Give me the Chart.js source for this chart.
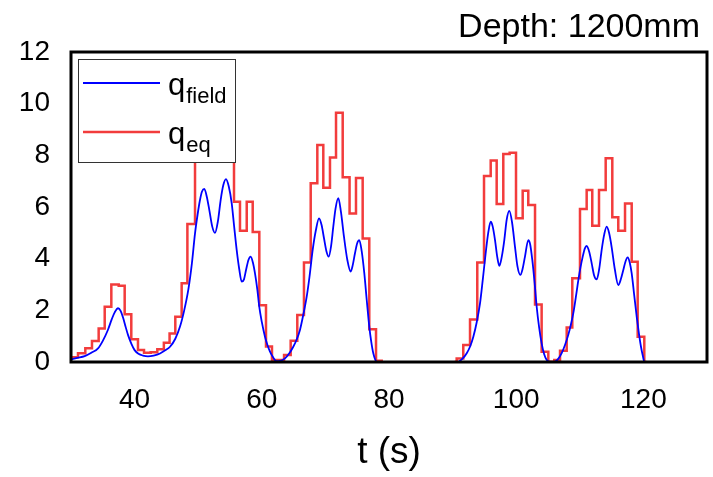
<!DOCTYPE html>
<html>
<head>
<meta charset="utf-8">
<script src="https://cdn.jsdelivr.net/npm/chart.js@4/dist/chart.umd.min.js"></script>
<style>
  html, body { margin: 0; padding: 0; background: #fff; }
  #wrap { width: 713px; height: 477px; }
</style>
</head>
<body>
<div id="wrap"><canvas id="chart" width="713" height="477"></canvas></div>
<script>
// --- data ---
// q_field : smooth measured curve
const fieldT = [30.0, 31.0, 32.15, 33.2, 34.25, 35.0, 35.8, 36.4, 36.87, 37.4, 37.8, 38.18, 38.6, 38.96, 39.5, 40.0, 40.6, 41.3, 42.1, 43.0, 44.0, 44.8, 45.57, 46.4, 47.14, 47.8, 48.44, 49.0, 49.5, 49.9, 50.28, 50.6, 50.96, 51.35, 51.75, 52.2, 52.64, 53.1, 53.53, 53.95, 54.37, 54.8, 55.27, 55.65, 56.05, 56.45, 56.84, 57.2, 57.52, 57.9, 58.25, 58.6, 58.93, 59.3, 59.6, 60.0, 60.5, 60.9, 61.29, 61.8, 62.3, 62.9, 63.65, 64.3, 64.95, 65.5, 66.0, 66.5, 67.06, 67.5, 68.0, 68.5, 69.0, 69.4, 69.78, 70.15, 70.52, 70.9, 71.24, 71.6, 72.03, 72.45, 72.92, 73.45, 73.98, 74.3, 74.65, 75.0, 75.33, 75.7, 76.12, 76.5, 76.9, 77.2, 77.53, 78.07, 78.5, 90.5, 90.9, 91.6, 92.22, 92.75, 93.26, 93.8, 94.31, 94.75, 95.2, 95.6, 95.99, 96.3, 96.67, 97.0, 97.35, 97.75, 98.13, 98.5, 98.92, 99.35, 99.81, 100.2, 100.65, 101.0, 101.38, 101.9, 102.2, 102.53, 102.9, 103.22, 103.6, 104.0, 104.4, 104.8, 105.47, 106.1, 106.6, 107.15, 107.7, 108.19, 108.6, 108.98, 109.4, 109.77, 110.1, 110.46, 110.8, 111.08, 111.5, 111.87, 112.25, 112.66, 113.05, 113.44, 113.85, 114.23, 114.6, 115.0, 115.5, 116.05, 116.45, 116.84, 117.2, 117.53, 117.85, 118.16, 118.55, 118.95, 119.3, 119.62, 119.9, 120.14, 120.5];
const fieldQ = [0.1, 0.16, 0.23, 0.36, 0.53, 0.82, 1.24, 1.65, 1.92, 2.08, 1.98, 1.72, 1.35, 1.05, 0.7, 0.46, 0.32, 0.25, 0.22, 0.25, 0.33, 0.45, 0.59, 0.9, 1.37, 2.0, 2.79, 3.8, 4.98, 5.7, 6.27, 6.6, 6.7, 6.4, 5.88, 5.25, 5.0, 5.45, 6.27, 6.85, 7.08, 6.8, 6.14, 5.25, 4.34, 3.6, 3.11, 3.2, 3.56, 3.95, 4.08, 3.85, 3.43, 2.8, 2.14, 1.55, 0.98, 0.65, 0.4, 0.17, 0.03, 0.04, 0.14, 0.33, 0.59, 0.88, 1.24, 1.8, 2.53, 3.3, 4.34, 5.1, 5.56, 5.3, 4.79, 4.3, 4.08, 4.5, 5.24, 5.95, 6.34, 5.8, 4.85, 3.95, 3.5, 3.75, 4.21, 4.6, 4.72, 4.3, 3.43, 2.4, 1.37, 0.8, 0.34, 0.01, 0, 0, 0.01, 0.14, 0.34, 0.6, 0.98, 1.55, 2.27, 3.2, 4.21, 5.0, 5.43, 5.25, 4.72, 4.1, 3.72, 4.1, 4.72, 5.5, 5.85, 5.4, 4.46, 3.7, 3.37, 3.6, 4.08, 4.72, 4.55, 3.95, 3.05, 2.14, 1.35, 0.72, 0.3, 0.08, 0.0, 0.01, 0.12, 0.34, 0.68, 1.05, 1.45, 1.89, 2.55, 3.17, 3.65, 4.08, 4.4, 4.49, 4.25, 3.82, 3.35, 3.2, 3.6, 4.34, 4.95, 5.24, 5.0, 4.46, 3.6, 2.98, 3.2, 3.56, 3.9, 4.05, 3.85, 3.43, 2.6, 1.75, 1.1, 0.59, 0.25, 0.01, 0];

// q_eq : step values, each holds from its start time to the next one
// (null = no line drawn in the quiet stretch between 79 s and 90 s)
const eqT = [30.0, 31.1, 32.25, 33.3, 34.35, 35.3, 36.34, 37.5, 38.44, 39.48, 40.53, 41.48, 42.53, 43.57, 44.6, 45.5, 46.4, 47.4, 48.3, 49.5, 50.5, 51.5, 52.6, 53.6, 54.6, 55.63, 56.57, 57.63, 58.57, 59.61, 60.66, 61.6, 62.6, 63.5, 64.54, 65.58, 66.63, 67.69, 68.73, 69.67, 70.72, 71.67, 72.72, 73.8, 74.81, 75.86, 76.9, 77.96, 78.85, 79.2, 90.3, 90.64, 91.68, 92.74, 93.88, 94.94, 95.99, 96.93, 97.97, 98.97, 99.97, 101.02, 101.9, 102.96, 104.0, 105.05, 105.99, 106.89, 107.94, 108.82, 110.03, 111.08, 111.96, 113.02, 114.07, 115.11, 116.05, 117.11, 118.16, 119.1, 120.14, 120.5];
const eqQ = [0.18, 0.34, 0.53, 0.81, 1.30, 2.14, 3.0, 2.95, 1.85, 0.88, 0.46, 0.36, 0.38, 0.49, 0.75, 1.1, 1.75, 3.05, 5.34, 9.0, 9.8, 8.6, 9.1, 10.0, 8.8, 6.2, 5.08, 6.2, 5.03, 2.2, 0.6, 0.08, 0.08, 0.27, 0.82, 1.82, 3.85, 6.92, 8.4, 6.75, 7.92, 9.65, 7.15, 5.75, 7.12, 4.78, 1.27, 0.05, 0, null, 0, 0.14, 0.66, 1.65, 3.85, 7.2, 7.8, 6.12, 8.05, 8.1, 5.56, 6.63, 6.08, 2.23, 0.4, 0.01, 0.08, 0.44, 1.34, 3.24, 5.92, 6.66, 5.27, 6.66, 7.89, 5.6, 5.08, 6.14, 3.88, 0.98, 0, 0];

const xTicks = [40, 60, 80, 100, 120];
const depthLabel = 'Depth: 1200mm';

const FONT = "'Liberation Sans', Arial, sans-serif";
const BLUE = '#0000ff';
const RED = '#f23c3c';

// frame, title and the boxed legend (drawn over the lines)
const overlay = {
  id: 'overlay',
  afterDatasetsDraw(chart) {
    const { ctx, chartArea: a } = chart;
    ctx.save();

    // axes box, a bit heavier so the zero runs sink into it
    ctx.strokeStyle = '#000';
    ctx.lineWidth = 3;
    ctx.strokeRect(a.left, a.top, a.right - a.left, a.bottom - a.top);

    // title top right
    ctx.fillStyle = '#000';
    ctx.font = '34px ' + FONT;
    ctx.textAlign = 'right';
    ctx.textBaseline = 'alphabetic';
    ctx.fillText(depthLabel, 700, 37);

    // legend
    const lx = a.left + 7, ly = a.top + 7, lw = 157, lh = 103;
    ctx.fillStyle = '#fff';
    ctx.fillRect(lx, ly, lw, lh);
    ctx.strokeStyle = '#333';
    ctx.lineWidth = 1;
    ctx.strokeRect(lx + 0.5, ly + 0.5, lw, lh);

    const rows = [
      { color: BLUE, width: 1.8, sub: 'field', y: 24 },
      { color: RED, width: 2.5, sub: 'eq', y: 73 }
    ];
    rows.forEach(r => {
      ctx.strokeStyle = r.color;
      ctx.lineWidth = r.width;
      ctx.beginPath();
      ctx.moveTo(lx + 5, ly + r.y);
      ctx.lineTo(lx + 82, ly + r.y);
      ctx.stroke();

      ctx.fillStyle = '#000';
      ctx.textAlign = 'left';
      ctx.font = '31px ' + FONT;
      ctx.fillText('q', lx + 90, ly + r.y + 12);
      const qw = ctx.measureText('q').width;
      ctx.font = '22px ' + FONT;
      ctx.fillText(r.sub, lx + 90 + qw + 1, ly + r.y + 20);
    });

    ctx.restore();
  }
};

new Chart(document.getElementById('chart'), {
  type: 'line',
  data: {
    datasets: [
      {
        label: 'q_field',
        data: fieldT.map((t, i) => ({ x: t, y: fieldQ[i] })),
        borderColor: BLUE,
        borderWidth: 1.8,
        pointRadius: 0,
        cubicInterpolationMode: 'monotone',
        fill: false
      },
      {
        label: 'q_eq',
        data: eqT.map((t, i) => ({ x: t, y: eqQ[i] })),
        borderColor: RED,
        borderWidth: 2.5,
        pointRadius: 0,
        stepped: true,
        spanGaps: false,
        fill: false
      }
    ]
  },
  options: {
    responsive: false,
    animation: false,
    events: [],
    layout: { padding: { top: 52, right: 6, left: 0, bottom: 0 } },
    plugins: {
      legend: { display: false },
      tooltip: { enabled: false },
      title: { display: false }
    },
    scales: {
      x: {
        type: 'linear',
        min: 30,
        max: 130,
        afterBuildTicks: s => { s.ticks = xTicks.map(v => ({ value: v })); },
        afterFit: s => { s.height = 115; },
        grid: { display: false },
        border: { display: false },
        ticks: { color: '#000', padding: 13, font: { family: FONT, size: 28 } },
        title: {
          display: true,
          text: 't (s)',
          color: '#000',
          padding: { top: 0, bottom: 2 },
          font: { family: FONT, size: 37 }
        }
      },
      y: {
        min: 0,
        max: 12,
        afterFit: s => { s.width = 71; },
        grid: { display: false },
        border: { display: false },
        ticks: { stepSize: 2, color: '#000', padding: 13, font: { family: FONT, size: 28 } }
      }
    }
  },
  plugins: [overlay]
});
</script>
</body>
</html>
